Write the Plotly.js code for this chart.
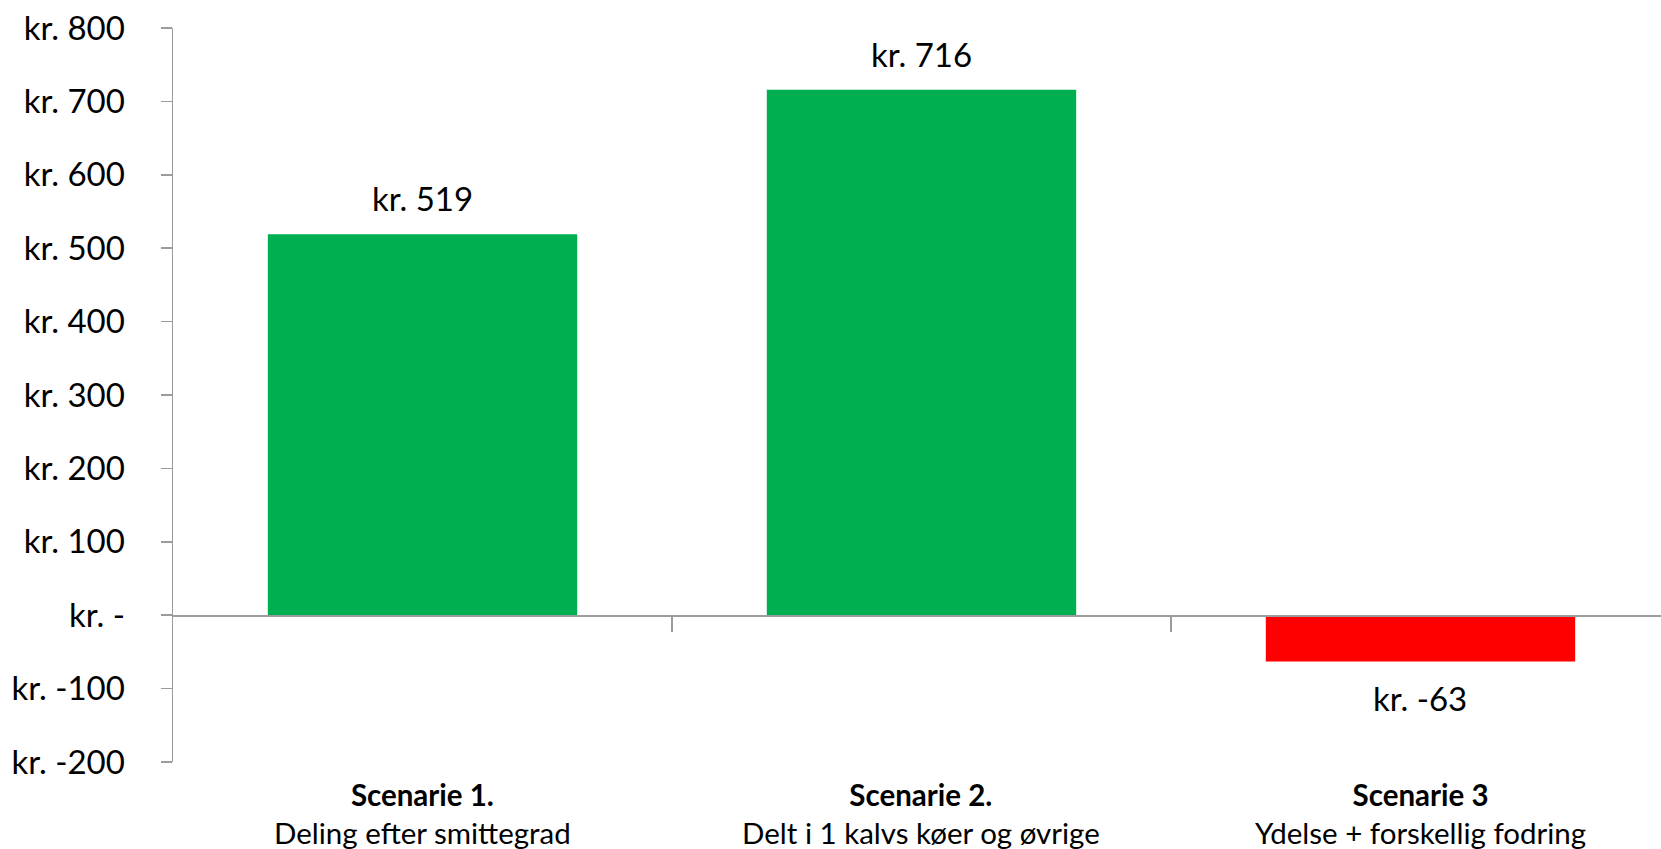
<!DOCTYPE html>
<html>
<head>
<meta charset="utf-8">
<script src="https://cdn.plot.ly/plotly-3.0.1.min.js"></script>
<style>
  html, body { margin: 0; padding: 0; background: #ffffff; overflow: hidden; }
  #chart { width: 1661px; height: 849px; }
</style>
</head>
<body>
<div id="chart"></div>
<script>
// Scenario results (kr.)
const scenarioNames = ["Scenarie 1.", "Scenarie 2.", "Scenarie 3"];
const scenarioDescriptions = [
  "Deling efter smittegrad",
  "Delt i 1 kalvs køer og øvrige",
  "Ydelse + forskellig fodring"
];
const values = [519, 716, -63];
const yTickValues = [-200, -100, 0, 100, 200, 300, 400, 500, 600, 700, 800];

const POS = "#00B050";
const NEG = "#FF0000";
const AXIS = "#9C9C9C";
const FONT = "Lato, 'Open Sans', sans-serif";

const fmt = v => (v === 0 ? "kr. -" : "kr. " + v);

const yMin = -200, yMax = 800;

const bar = {
  type: "bar",
  x: [0, 1, 2],
  y: values,
  width: 0.62,
  marker: { color: values.map(v => (v >= 0 ? POS : NEG)) },
  hoverinfo: "skip"
};

// value labels above / below each bar
const valueLabels = values.map((v, i) => ({
  x: i, y: v, xref: "x", yref: "y",
  text: fmt(v),
  showarrow: false,
  yanchor: v >= 0 ? "bottom" : "top",
  yshift: v >= 0 ? 14 : -15,
  font: { family: FONT, size: 33, color: "#000000" }
}));

// two-line category labels under the plot
const categoryLabels = scenarioNames.map((name, i) => ({
  x: i, y: 0, xref: "x", yref: "paper",
  text: "<b>" + name + "</b><br>" + scenarioDescriptions[i],
  showarrow: false,
  yanchor: "top",
  yshift: -13,
  align: "center",
  font: { family: FONT, size: 29.5, color: "#000000" }
}));

const layout = {
  width: 1661,
  height: 849,
  margin: { l: 173, r: 0, t: 28, b: 87, pad: 0 },
  paper_bgcolor: "#ffffff",
  plot_bgcolor: "#ffffff",
  showlegend: false,
  font: { family: FONT, size: 30, color: "#000000" },
  xaxis: {
    type: "linear",
    range: [-0.5, 2.482],
    anchor: "free",
    // category axis sits on the zero line
    position: (0 - yMin) / (yMax - yMin),
    showline: true,
    linecolor: AXIS,
    linewidth: 1.5,
    showgrid: false,
    zeroline: false,
    tickmode: "array",
    tickvals: [0.5, 1.5],
    ticks: "outside",
    ticklen: 15,
    tickwidth: 1.5,
    tickcolor: AXIS,
    showticklabels: false,
    fixedrange: true
  },
  yaxis: {
    range: [yMin, yMax],
    showline: true,
    linecolor: AXIS,
    linewidth: 1.5,
    showgrid: false,
    zeroline: false,
    tickmode: "array",
    tickvals: yTickValues,
    ticktext: yTickValues.map(fmt),
    ticks: "outside",
    ticklen: 11,
    tickwidth: 1.5,
    tickcolor: AXIS,
    ticklabelstandoff: 29,
    tickfont: { family: FONT, size: 33, color: "#000000" },
    fixedrange: true
  },
  annotations: valueLabels.concat(categoryLabels)
};

Plotly.newPlot("chart", [bar], layout, { displayModeBar: false, staticPlot: true });
</script>
</body>
</html>
